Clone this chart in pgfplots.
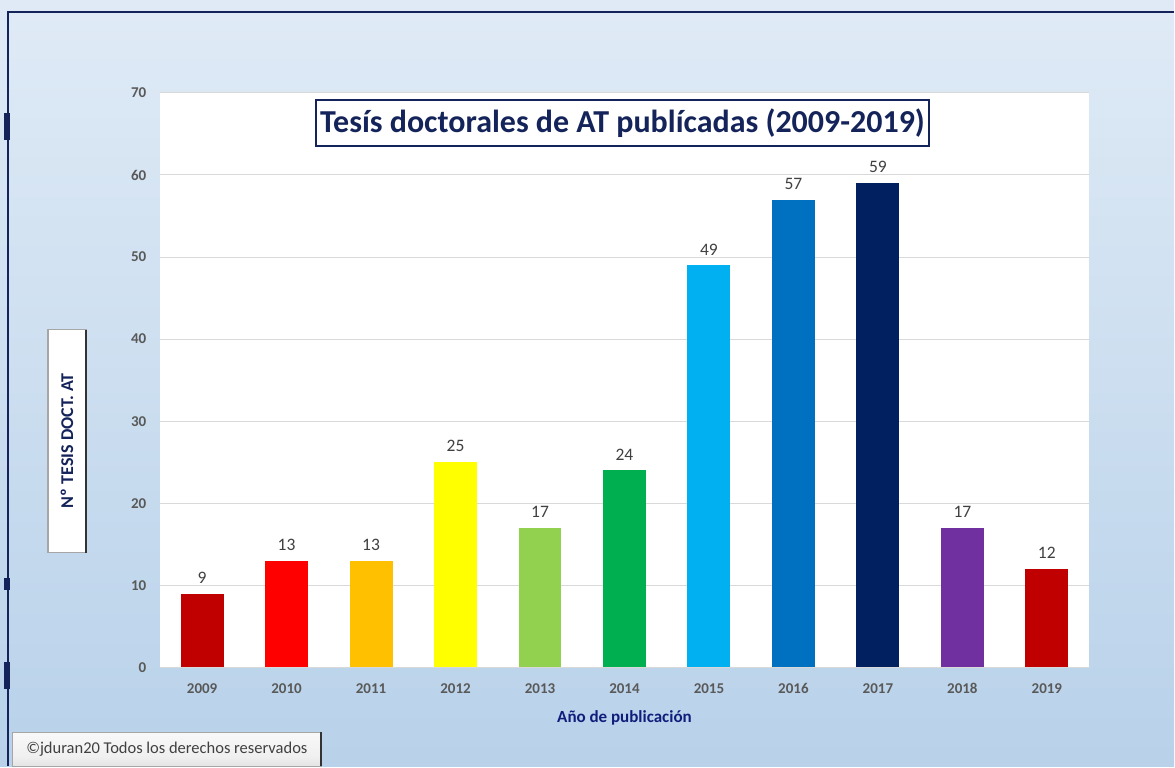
\documentclass[border=0pt]{standalone}
\usepackage{fontspec}
\setmainfont{Carlito}
\usepackage{pgfplots}
\pgfplotsset{compat=1.18}
\definecolor{navy}{HTML}{14245A}
\definecolor{tickgray}{HTML}{595959}
\definecolor{c1}{HTML}{C00000}
\definecolor{c2}{HTML}{FF0000}
\definecolor{c3}{HTML}{FFC000}
\definecolor{c4}{HTML}{FFFF00}
\definecolor{c5}{HTML}{92D050}
\definecolor{c6}{HTML}{00B050}
\definecolor{c7}{HTML}{00B0F0}
\definecolor{c8}{HTML}{0070C0}
\definecolor{c9}{HTML}{002060}
\definecolor{c10}{HTML}{7030A0}
\definecolor{c11}{HTML}{C00000}
\definecolor{bgbot}{HTML}{D6E6F4}
\definecolor{bgmid}{HTML}{B3CEE8}
\definecolor{bgtop}{HTML}{F3F7FC}
\pgfdeclareverticalshading{bg}{100bp}{color(0bp)=(bgbot); color(18bp)=(bgmid); color(100bp)=(bgtop)}
\pgfdeclareverticalshading{btn}{100bp}{color(0bp)=(gray!35); color(40bp)=(gray!12); color(100bp)=(white)}
\begin{document}
\begin{tikzpicture}[x=1pt,y=1pt]
\shade[shading=bg] (0,0) rectangle (1175,767);
\draw[navy, line width=2pt] (8,0) -- (8,755) -- (1175,755);
\fill[navy] (4,627) rectangle (10,654);
\fill[navy] (4,176) rectangle (10,189);
\fill[navy] (4,77) rectangle (10,104);
\begin{axis}[
  at={(160pt,99pt)}, anchor=south west,
  scale only axis, width=930pt, height=575pt,
  xmin=-0.5, xmax=10.5, ymin=0, ymax=70,
  ytick={0,10,...,70},
  xtick={0,...,10},
  xticklabels={2009,2010,2011,2012,2013,2014,2015,2016,2017,2018,2019},
  /pgf/number format/assume math mode=true,
  axis background/.style={fill=white},
  axis line style={draw=none},
  major tick length=0pt,
  ymajorgrids, grid style={black!15, line width=1pt},
  ybar, bar width=43pt, bar shift=0pt,
  tick label style={font=\fontsize{15}{18}\selectfont\bfseries, text=tickgray},
  yticklabel style={xshift=-10pt},
  xticklabel style={yshift=-13pt, text height=10pt, text depth=0pt, anchor=north},
  xlabel={Año de publicación},
  xlabel style={font=\fontsize{17}{20}\selectfont\bfseries, text=navy!80!blue, yshift=-10pt},
  nodes near coords,
  every node near coord/.append style={font=\fontsize{17.5}{20}\selectfont, text=black!75, inner sep=0pt, yshift=10pt},
  clip=false,
]
\addplot[fill=c1, draw=none] coordinates {(0,9)};
\addplot[fill=c2, draw=none] coordinates {(1,13)};
\addplot[fill=c3, draw=none] coordinates {(2,13)};
\addplot[fill=c4, draw=none] coordinates {(3,25)};
\addplot[fill=c5, draw=none] coordinates {(4,17)};
\addplot[fill=c6, draw=none] coordinates {(5,24)};
\addplot[fill=c7, draw=none] coordinates {(6,49)};
\addplot[fill=c8, draw=none] coordinates {(7,57)};
\addplot[fill=c9, draw=none] coordinates {(8,59)};
\addplot[fill=c10, draw=none] coordinates {(9,17)};
\addplot[fill=c11, draw=none] coordinates {(10,12)};
\end{axis}
\node[draw=navy, line width=2pt, fill=white, minimum width=614pt, minimum height=46pt, inner sep=0pt,
  font=\fontsize{32}{36}\selectfont\bfseries, text=navy] at (623,644) {Tesís doctorales de AT publícadas (2009-2019)};
\draw[gray!70, line width=1.5pt, fill=white] (48,214) rectangle (86,437);
\draw[gray!40!black, line width=2pt] (86,214) -- (86,437);
\node[rotate=90, font=\fontsize{18}{20}\selectfont\bfseries, text=navy] at (67,326) {Nº TESIS DOCT. AT};
\shade[shading=btn, draw=gray!70, line width=1pt] (13,0) rectangle (322,34);
\draw[gray!40!black, line width=2pt] (321,0) -- (321,34);
\node[font=\fontsize{16.5}{19}\selectfont, text=black!75] at (167,17) {©jduran20 Todos los derechos reservados};
\end{tikzpicture}
\end{document}
